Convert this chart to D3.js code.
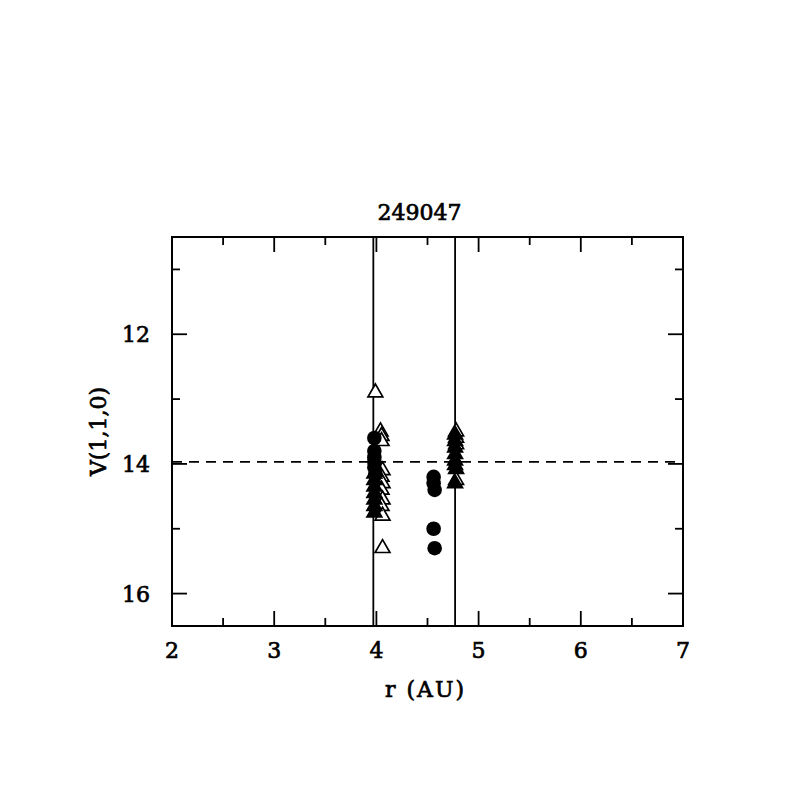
<!DOCTYPE html>
<html><head><meta charset="utf-8">
<script src="https://cdn.jsdelivr.net/npm/d3@7"></script>
<style>body{margin:0;background:#fff}</style>
</head><body>
<svg id="c" width="797" height="797"></svg>
<script>
const title = "249047";
const xLabel = "r (AU)";
const yLabel = "V(1,1,0)";
const xDomain = [2, 7];
const yDomain = [10.5, 16.5];
const xTicks = [2, 3, 4, 5, 6, 7];
const yTicks = [12, 14, 16];
const vLines = [3.97, 4.77];
const hLine = 13.97;

// filled circles
const circX = [3.98, 3.98, 3.98, 3.98, 3.98, 3.99, 4.56, 4.56, 4.57, 4.56, 4.57];
const circY = [13.6, 13.8, 13.9, 13.97, 14.05, 14.15, 14.2, 14.3, 14.4, 15.0, 15.3];
// filled triangles
const ftriX = [3.98, 3.98, 3.98, 3.98, 3.98, 3.98, 3.98, 4.77, 4.77, 4.77, 4.77, 4.77, 4.77, 4.78, 4.77];
const ftriY = [14.15, 14.25, 14.35, 14.45, 14.55, 14.65, 14.75, 13.55, 13.65, 13.75, 13.85, 13.95, 14.02, 14.08, 14.3];
// open triangles
const otriX = [3.99, 4.04, 4.05, 4.05, 4.06, 4.05, 4.06, 4.05, 4.06, 4.05, 4.06, 4.06, 4.78, 4.78, 4.78, 4.78];
const otriY = [12.9, 13.5, 13.57, 13.65, 14.1, 14.2, 14.3, 14.4, 14.55, 14.65, 14.8, 15.3, 13.5, 13.6, 13.7, 14.25];

const svg = d3.select("#c");
const L = 172, R = 683, T = 237, B = 626;
const x = d3.scaleLinear().domain(xDomain).range([L, R]);
const y = d3.scaleLinear().domain(yDomain).range([T, B]);
const font = "'DejaVu Serif', serif";

const g = svg.append("g");
const txt = (sel) => sel.attr("font-family", font).attr("font-size", 22)
  .attr("fill", "#000").attr("stroke", "#000").attr("stroke-width", 0.7);

// frame
g.append("rect").attr("x", L).attr("y", T).attr("width", R - L).attr("height", B - T)
  .attr("fill", "none").attr("stroke", "#000").attr("stroke-width", 2);

// ticks (inward, all four sides)
const xMinor = d3.range(2.5, 7, 1);
const yMinor = [11, 13, 15];
const tk = (x1, y1, x2, y2) => g.append("line").attr("x1", x1).attr("y1", y1).attr("x2", x2).attr("y2", y2)
  .attr("stroke", "#000").attr("stroke-width", 1.8);
xTicks.forEach(v => { tk(x(v), B, x(v), B - 15); tk(x(v), T, x(v), T + 15); });
xMinor.forEach(v => { tk(x(v), B, x(v), B - 8); tk(x(v), T, x(v), T + 8); });
yTicks.forEach(v => { tk(L, y(v), L + 15, y(v)); tk(R, y(v), R - 15, y(v)); });
yMinor.forEach(v => { tk(L, y(v), L + 8, y(v)); tk(R, y(v), R - 8, y(v)); });

// tick labels
xTicks.forEach(v => txt(g.append("text")).attr("x", x(v)).attr("y", 658).attr("text-anchor", "middle").text(v));
yTicks.forEach(v => txt(g.append("text")).attr("x", 150).attr("y", y(v) + 8).attr("text-anchor", "end").text(v));

// labels
txt(g.append("text")).attr("x", (L + R) / 2 - 2).attr("y", 697).attr("text-anchor", "middle")
  .attr("letter-spacing", 2).text(xLabel);
txt(g.append("text")).attr("transform", `translate(106,${(T + B) / 2}) rotate(-90)`).attr("text-anchor", "middle").text(yLabel);
txt(g.append("text")).attr("x", (L + R) / 2 - 8).attr("y", 220).attr("text-anchor", "middle").text(title);

// reference lines
vLines.forEach(v => g.append("line").attr("x1", x(v)).attr("x2", x(v)).attr("y1", T).attr("y2", B)
  .attr("stroke", "#000").attr("stroke-width", 1.8));
g.append("line").attr("x1", L).attr("x2", R).attr("y1", y(hLine)).attr("y2", y(hLine))
  .attr("stroke", "#000").attr("stroke-width", 1.8).attr("stroke-dasharray", "10,7");

// markers
const tri = d3.symbol().type(d3.symbolTriangle).size(95);
otriX.forEach((v, i) => g.append("path").attr("d", tri)
  .attr("transform", `translate(${x(v)},${y(otriY[i])})`)
  .attr("fill", "#fff").attr("stroke", "#000").attr("stroke-width", 1.7));
ftriX.forEach((v, i) => g.append("path").attr("d", tri)
  .attr("transform", `translate(${x(v)},${y(ftriY[i])})`)
  .attr("fill", "#000").attr("stroke", "#000").attr("stroke-width", 1.7));
circX.forEach((v, i) => g.append("circle").attr("cx", x(v)).attr("cy", y(circY[i])).attr("r", 7.3)
  .attr("fill", "#000"));
</script>
</body></html>
